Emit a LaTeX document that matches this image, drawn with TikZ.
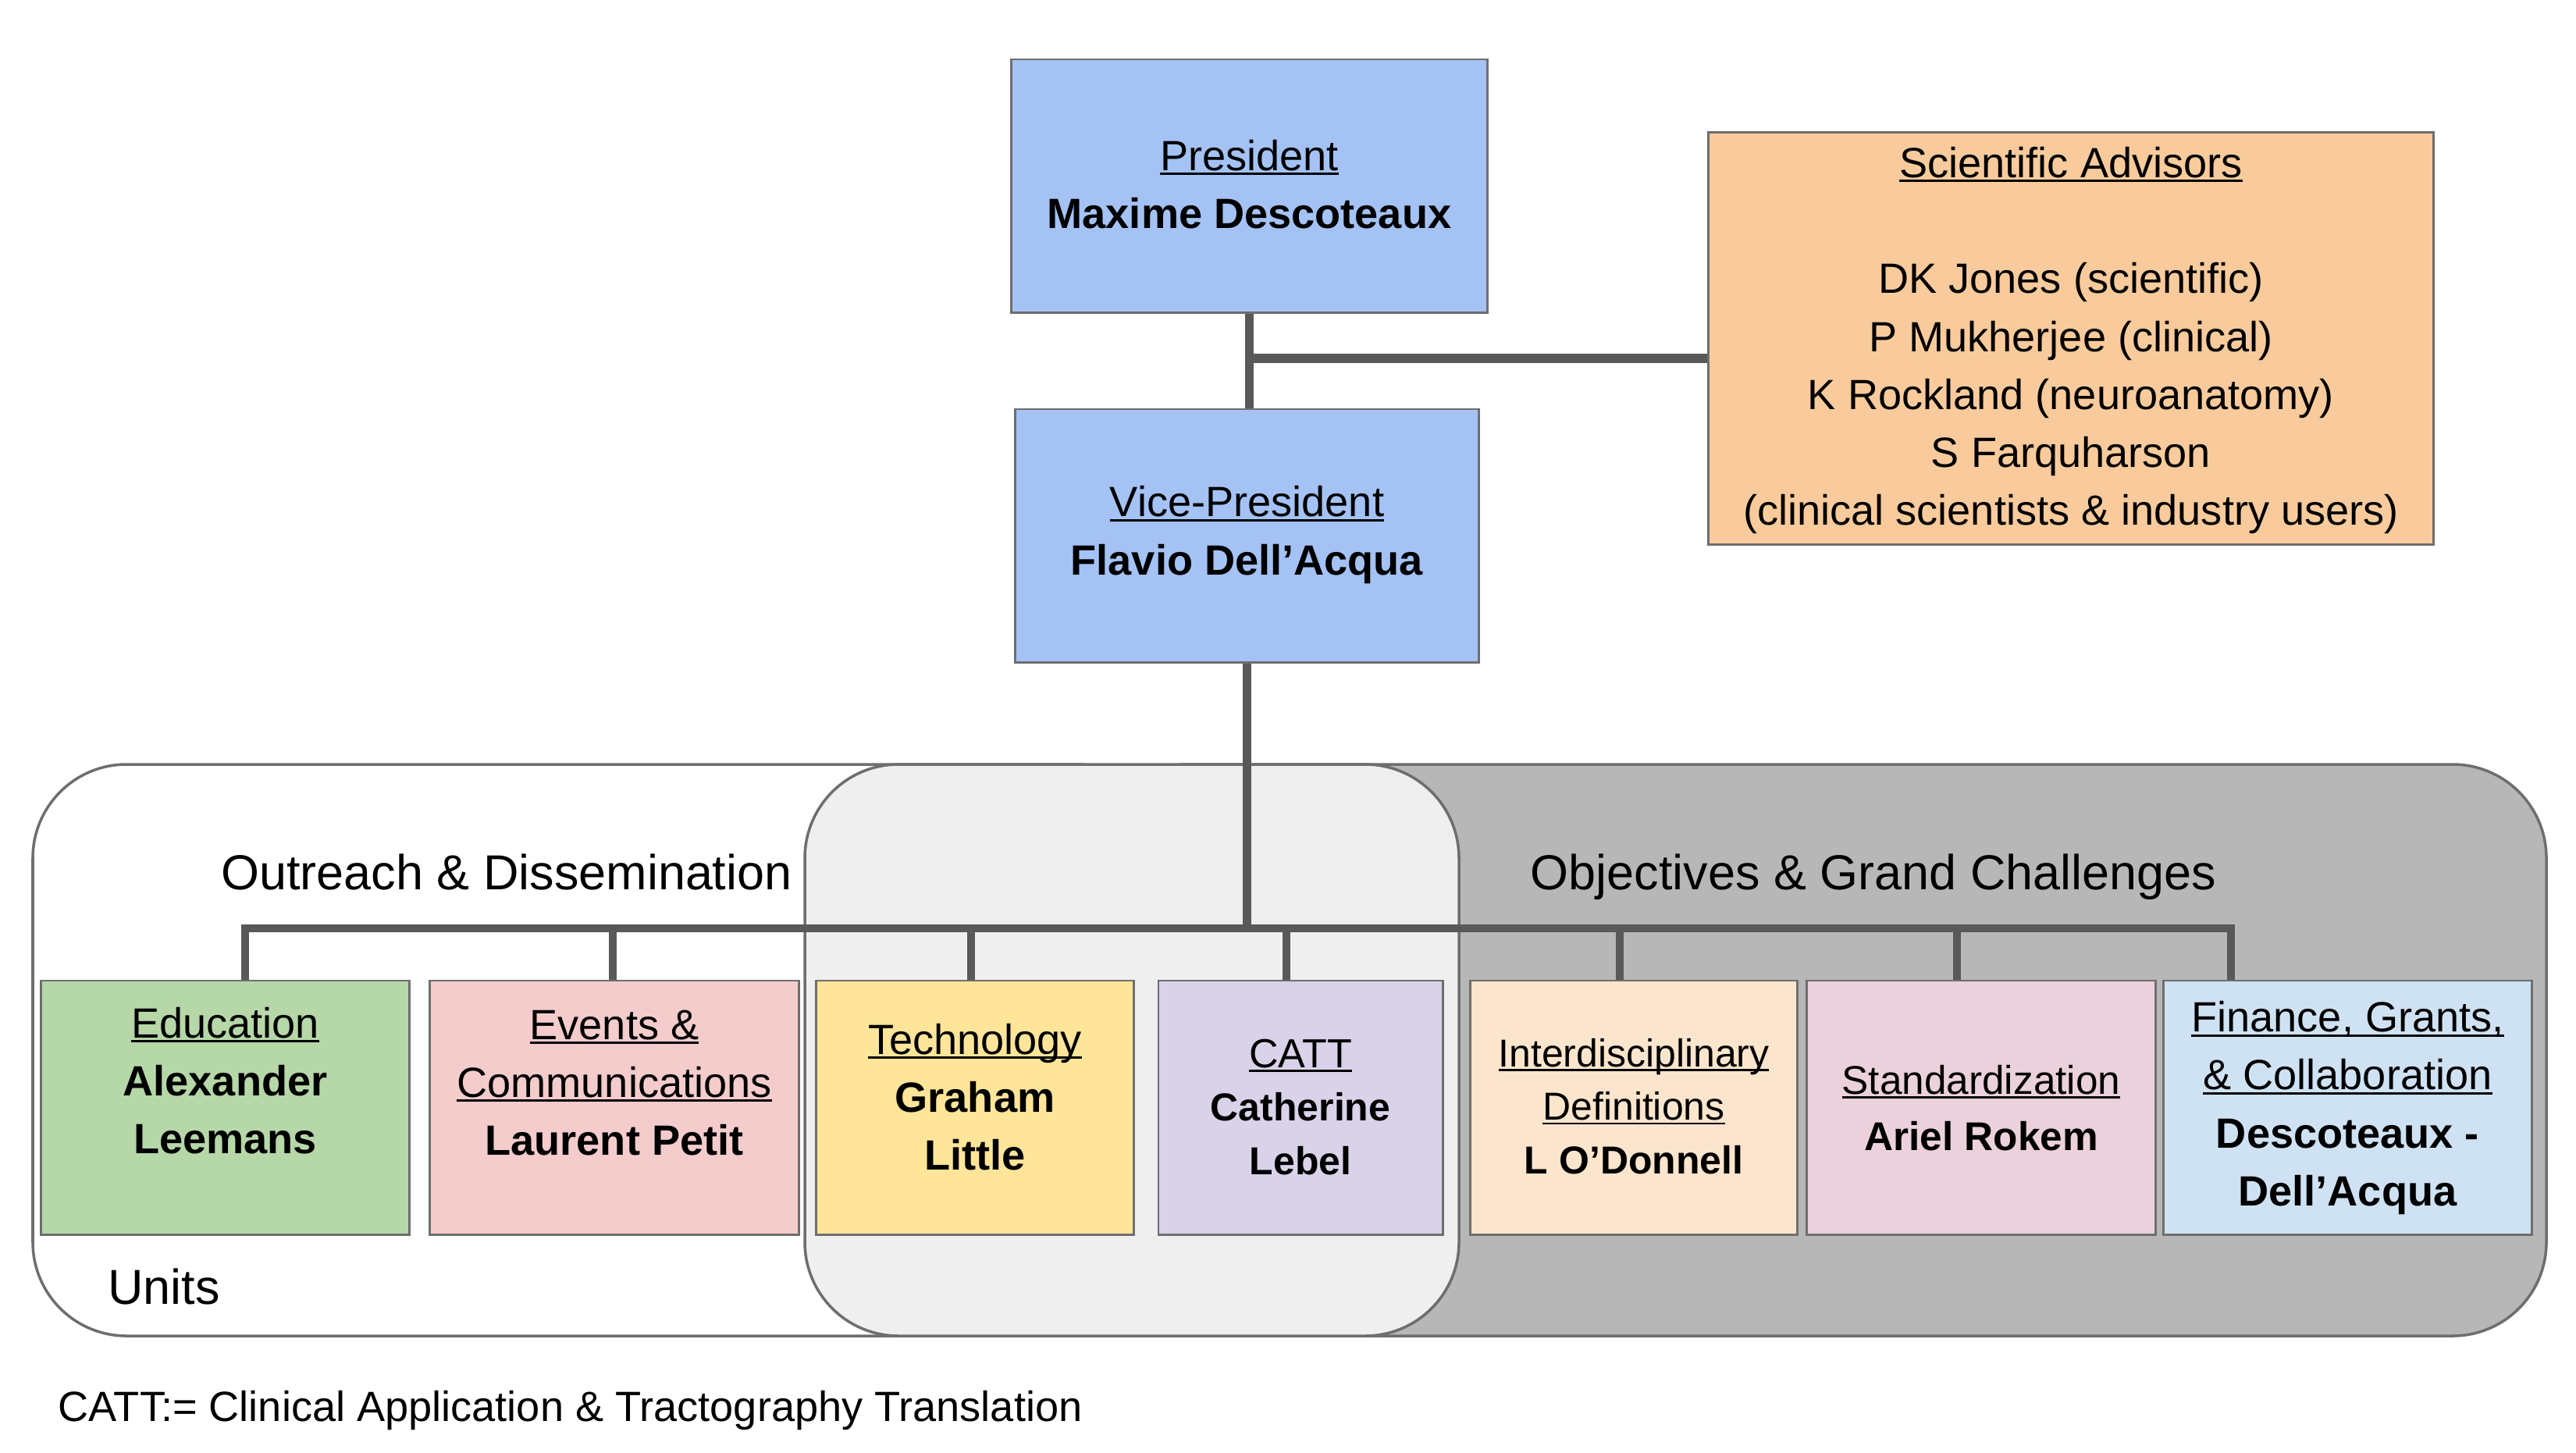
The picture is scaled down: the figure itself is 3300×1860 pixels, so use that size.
\documentclass[tikz,border=0pt]{standalone}
\usepackage{fontspec}
\setmainfont{Liberation Sans}
\usetikzlibrary{calc}
\definecolor{cBlue}{HTML}{A4C2F4}
\definecolor{cAdv}{HTML}{F9CB9C}
\definecolor{cGreen}{HTML}{B6D7A8}
\definecolor{cRed}{HTML}{F4CCCC}
\definecolor{cYellow}{HTML}{FFE599}
\definecolor{cPurple}{HTML}{D9D2E9}
\definecolor{cOrange}{HTML}{FCE5CD}
\definecolor{cMagenta}{HTML}{EAD1DC}
\definecolor{cLightBlue}{HTML}{CFE2F3}
\definecolor{cRegGray}{HTML}{B7B7B7}
\definecolor{cRegLight}{HTML}{EFEFEF}
\definecolor{cLine}{HTML}{595959}
\definecolor{cBorder}{HTML}{6E6E6E}
\newcommand{\myul}[1]{\setbox0\hbox{#1}\rlap{\rule[-0.11em]{\wd0}{0.055em}}\box0}
\tikzset{
  box/.style={draw=cBorder, line width=0.8pt, minimum height=3.24cm, inner sep=0pt},
  unitbox/.style={draw=cBorder, line width=0.8pt, minimum height=3.25cm, inner sep=0pt},
  txt/.style={align=center, inner sep=0pt, font=\fontsize{15.4}{21.1}\selectfont},
  smalltxt/.style={align=center, inner sep=0pt, font=\fontsize{14.2}{19.5}\selectfont},
  region/.style={draw=cBorder, line width=1pt, rounded corners=1.2cm},
  reglabel/.style={inner sep=0pt, font=\fontsize{17.9}{22}\selectfont},
  conn/.style={draw=cLine, line width=3.1pt},
}
\begin{document}
\begin{tikzpicture}[x=0.01cm,y=-0.01cm]
\useasboundingbox (0,0) rectangle (3300,1860);

% regions
\draw[region, fill=white] (42,979) rectangle (1500,1711);
\draw[region, fill=cRegGray] (1400,979) rectangle (3262,1711);
\draw[region, fill=cRegLight] (1031,979) rectangle (1869,1711);

\node[reglabel] (lout) at (649,1117) {Outreach \& Dissemination};
\node[reglabel] (lobj) at (2400,1123) {Objectives \& Grand Challenges};
\node[reglabel] (lunits) at (210,1648) {Units};

% top boxes
\node[box, fill=cBlue, minimum width=6.09cm] (pres) at (1600.5,238) {};
\node[txt] (prest) at (1600.5,236) {\myul{President}\\\textbf{Maxime Descoteaux}};
\node[box, fill=cBlue, minimum width=5.93cm] (vp) at (1597.5,686) {};
\node[txt] (vpt) at (1597.5,685) {\myul{Vice-President}\\\textbf{Flavio Dell’Acqua}};
\node[box, fill=cAdv, minimum width=9.28cm, minimum height=5.27cm] (adv) at (2653,433.5) {};
\node[txt] (advt) at (2653,436) {\myul{Scientific Advisors}\\\mbox{}\\DK Jones (scientific)\\P Mukherjee (clinical)\\K Rockland (neuroanatomy)\\S Farquharson\\(clinical scientists \& industry users)};

% unit boxes
\node[unitbox, fill=cGreen, minimum width=4.71cm] (edu) at (288.5,1418.5) {};
\node[txt] (edut) at (288.5,1384) {\myul{Education}\\\textbf{Alexander}\\\textbf{Leemans}};
\node[unitbox, fill=cRed, minimum width=4.72cm] (evt) at (787,1418.5) {};
\node[txt] (evtt) at (787,1387) {\myul{Events \&}\\\myul{Communications}\\\textbf{Laurent Petit}};
\node[unitbox, fill=cYellow, minimum width=4.06cm] (tech) at (1249,1418.5) {};
\node[txt] (techt) at (1249,1405) {\myul{Technology}\\\textbf{Graham}\\\textbf{Little}};
\node[unitbox, fill=cPurple, minimum width=3.64cm] (catt) at (1666,1418.5) {};
\node[smalltxt] (cattt) at (1666,1418) {\myul{\fontsize{14.8}{19.5}\selectfont CATT}\\\textbf{Catherine}\\\textbf{Lebel}};
\node[unitbox, fill=cOrange, minimum width=4.18cm] (inter) at (2093,1418.5) {};
\node[smalltxt] (intert) at (2093,1417) {\myul{Interdisciplinary}\\\myul{Definitions}\\\textbf{L O’Donnell}};
\node[unitbox, fill=cMagenta, minimum width=4.46cm] (stand) at (2538,1418.5) {};
\node[txt, font=\fontsize{14.6}{20.5}\selectfont] (standt) at (2538,1419) {\myul{Standardization}\\\textbf{Ariel Rokem}};
\node[unitbox, fill=cLightBlue, minimum width=4.71cm] (fin) at (3007.5,1418.5) {};
\node[txt] (fint) at (3007.5,1419) {\myul{Finance, Grants,}\\\myul{\& Collaboration}\\\textbf{Descoteaux -}\\\textbf{Dell’Acqua}};

% footnote
\node[txt, anchor=west] (foot) at (74,1806) {CATT:= Clinical Application \& Tractography Translation};

% connectors
\coordinate (advj) at (1600.5,459);
\draw[conn] (pres.south) -- (pres.south |- vp.north);
\draw[conn, line width=3.6pt] (advj) -- (advj -| adv.west);
\coordinate (busL) at (314,1189);
\coordinate (busR) at (2858,1189);
\draw[conn] (vp.south) -- ([yshift=-1.5pt]vp.south |- busL);
\draw[conn, line cap=rect] (busL) -- (busR);
\coordinate (d1) at (314,1189);
\coordinate (d2) at (785,1189);
\coordinate (d3) at (1244,1189);
\coordinate (d4) at (1648,1189);
\coordinate (d5) at (2075,1189);
\coordinate (d6) at (2507,1189);
\coordinate (d7) at (2858,1189);
\draw[conn] (d1) -- (d1 |- edu.north);
\draw[conn] (d2) -- (d2 |- evt.north);
\draw[conn] (d3) -- (d3 |- tech.north);
\draw[conn] (d4) -- (d4 |- catt.north);
\draw[conn] (d5) -- (d5 |- inter.north);
\draw[conn] (d6) -- (d6 |- stand.north);
\draw[conn] (d7) -- (d7 |- fin.north);
\end{tikzpicture}
\end{document}
